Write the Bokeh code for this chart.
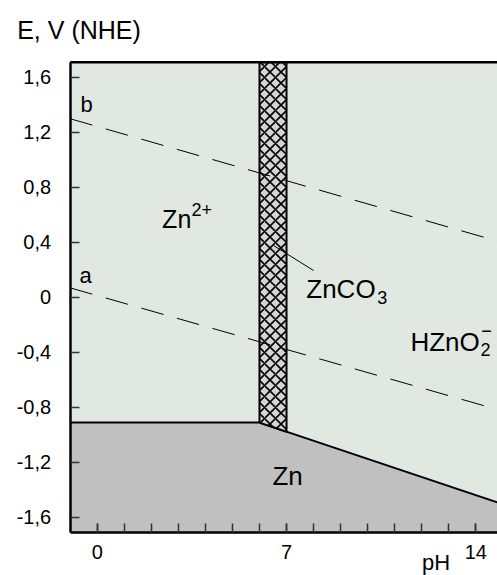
from bokeh.plotting import figure
from bokeh.models import FixedTicker
from bokeh.core.properties import value
from bokeh.embed import file_html
from bokeh.resources import INLINE

# ---- data ----
ph_box = [-1, 14.8]          # pH extent of the diagram box
E_box = [-1.71, 1.71]        # potential extent of the diagram box

line_a_ph = [-1, 14.8]
line_a_E = [0.07, -0.815]
line_b_ph = [-1, 14.8]
line_b_E = [1.30, 0.41]

zn_boundary_ph = [-1, 6, 14.8]
zn_boundary_E = [-0.91, -0.91, -1.49]

znco3_ph = [6, 7, 7, 6]
znco3_E = [1.71, 1.71, -0.976, -0.91]

pointer_ph = [6.52, 8.0]
pointer_E = [0.378, 0.196]

y_ticks = [-1.6, -1.2, -0.8, -0.4, 0, 0.4, 0.8, 1.2, 1.6]
y_tick_labels = ["-1,6", "-1,2", "-0,8", "-0,4", "0", "0,4", "0,8", "1,2", "1,6"]
x_ticks = [0, 7, 14]
x_minor_ticks = list(range(0, 15))

FONT = "Liberation Sans"
Y_RANGE = (-2.022, 2.16)
HEIGHT = 575
PX_PER_V = HEIGHT / (Y_RANGE[1] - Y_RANGE[0])

# the frame covers the whole canvas; axes are pinned to the diagram box
p = figure(width=497, height=HEIGHT, x_range=(-3.575, 14.8), y_range=Y_RANGE,
           output_backend="svg", toolbar_location=None,
           min_border_left=0, min_border_right=0, min_border_top=0, min_border_bottom=0)
p.background_fill_color = "white"
p.border_fill_color = "white"
p.outline_line_color = None
p.grid.visible = False

# diagram background
p.quad(left=[ph_box[0]], right=[ph_box[1]], bottom=[E_box[0]], top=[E_box[1]],
       fill_color="#e1e7e1", line_color=None)

# Zn region
zn_poly_x = zn_boundary_ph + [zn_boundary_ph[-1], zn_boundary_ph[0]]
zn_poly_y = zn_boundary_E + [E_box[0], E_box[0]]
p.patch(zn_poly_x, zn_poly_y, fill_color="#c0c0c0", line_color=None)
p.line(zn_boundary_ph, zn_boundary_E, line_color="black", line_width=2)

# ZnCO3 column
p.patch(znco3_ph, znco3_E, fill_color="#d4d4d4", hatch_pattern="x", hatch_color="black",
        hatch_scale=11, hatch_weight=1.6, line_color="black", line_width=2)

# dashed water lines
p.line(line_a_ph, line_a_E, line_color="black", line_width=1, line_dash="23 14")
p.line(line_b_ph, line_b_E, line_color="black", line_width=1, line_dash="23 14")

# pointer
p.line(pointer_ph, pointer_E, line_color="black", line_width=1)

# top border of the box
p.line(ph_box, [E_box[1], E_box[1]], line_color="black", line_width=2.5)

# axes
xa, ya = p.xaxis[0], p.yaxis[0]
xa.fixed_location = E_box[0]
ya.fixed_location = ph_box[0]
xa.bounds = tuple(ph_box)
ya.bounds = tuple(E_box)
for ax in (xa, ya):
    ax.axis_line_width = 2.5
    ax.axis_line_color = "black"
    ax.major_tick_in = 9
    ax.major_tick_out = 0
    ax.minor_tick_in = 9
    ax.minor_tick_out = 0
    ax.major_tick_line_color = "#333333"
    ax.minor_tick_line_color = "#333333"
    ax.major_tick_line_width = 1.5
    ax.minor_tick_line_width = 1.5
    ax.major_label_text_font = FONT
    ax.major_label_text_font_size = "20px"
    ax.major_label_text_color = "black"

ya.ticker = FixedTicker(ticks=y_ticks, minor_ticks=[])
ya.major_label_overrides = {t: l for t, l in zip(y_ticks, y_tick_labels)}
ya.major_label_standoff = 19
xa.ticker = FixedTicker(ticks=x_ticks, minor_ticks=x_minor_ticks)
xa.major_label_standoff = 12


def lab(x, y, text, size, align="left"):
    # the SVG text sits ~0.37 em below the requested baseline; lift it to compensate
    lift = 0.37 * size / PX_PER_V
    p.text(x=[x], y=[y + lift], text=[text], text_font=value(FONT),
           text_font_size=f"{size}px", text_align=align,
           text_baseline="alphabetic", text_color="black")


lab(-2.958, 1.876, "E, V (NHE)", 25)
lab(12.01, -1.985, "pH", 22)
lab(-0.62, 1.345, "b", 22)
lab(-0.65, 0.102, "a", 22)
lab(2.40, 0.502, "Zn", 25)
lab(3.49, 0.589, "2+", 18)
lab(7.73, -0.007, "ZnCO", 26)
lab(10.35, -0.051, "3", 18)
lab(11.58, -0.391, "HZnO", 26)
lab(14.17, -0.427, "2", 18)
lab(14.39, -0.287, "\u2212", 18, align="center")
lab(6.48, -1.367, "Zn", 26)

open("out.html", "w").write(file_html(p, INLINE))
